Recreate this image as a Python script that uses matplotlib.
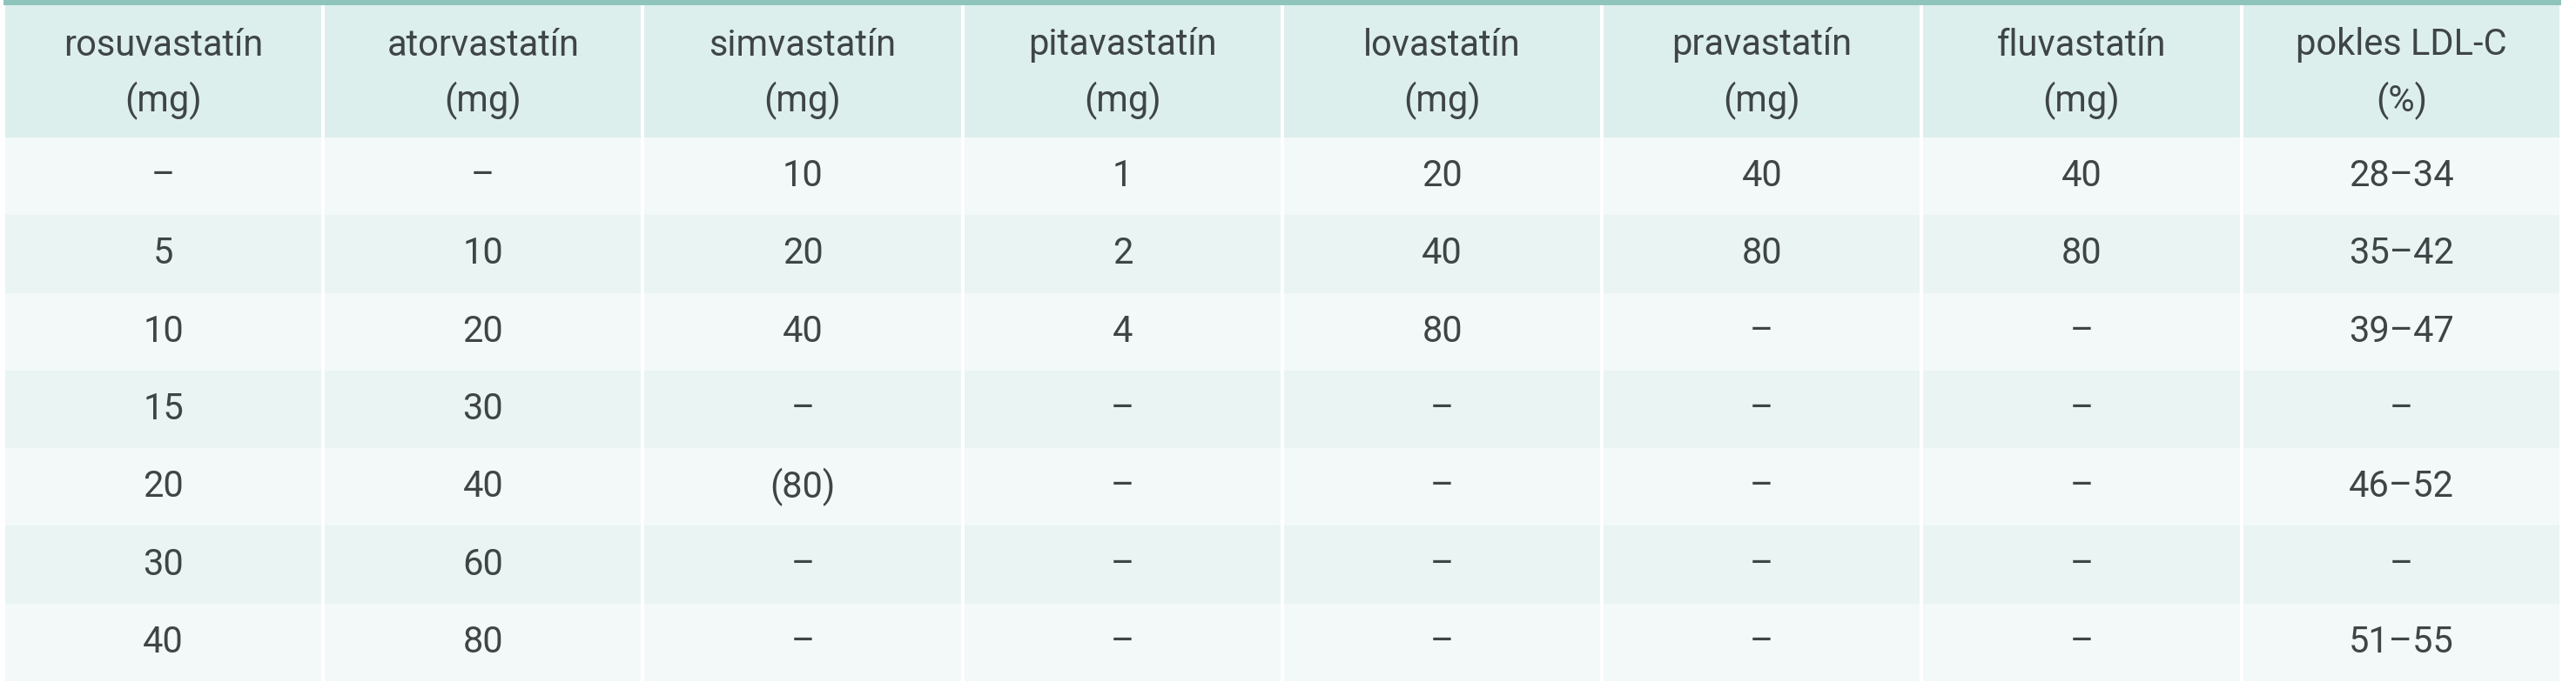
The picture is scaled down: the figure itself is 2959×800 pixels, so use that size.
import matplotlib
matplotlib.use("Agg")
import matplotlib.pyplot as plt
from matplotlib.patches import Rectangle

headers = ["rosuvastatín\n(mg)", "atorvastatín\n(mg)", "simvastatín\n(mg)", "pitavastatín\n(mg)",
           "lovastatín\n(mg)", "pravastatín\n(mg)", "fluvastatín\n(mg)", "pokles LDL-C\n(%)"]
rosuvastatin = ["–", "5", "10", "15", "20", "30", "40"]
atorvastatin = ["–", "10", "20", "30", "40", "60", "80"]
simvastatin = ["10", "20", "40", "–", "(80)", "–", "–"]
pitavastatin = ["1", "2", "4", "–", "–", "–", "–"]
lovastatin = ["20", "40", "80", "–", "–", "–", "–"]
pravastatin = ["40", "80", "–", "–", "–", "–", "–"]
fluvastatin = ["40", "80", "–", "–", "–", "–", "–"]
ldl_drop = ["28–34", "35–42", "39–47", "–", "46–52", "–", "51–55"]
columns = [rosuvastatin, atorvastatin, simvastatin, pitavastatin, lovastatin, pravastatin, fluvastatin, ldl_drop]

W, H = 2959, 800
fig = plt.figure(figsize=(W/100, H/100), dpi=100)
ax = fig.add_axes([0, 0, 1, 1])
ax.set_xlim(0, W); ax.set_ylim(H, 0); ax.axis("off")

left, right = 4, 2942
ncol = len(headers)
cw = (right - left) / ncol
top, border = 0, 6
head_h = 158
nrow = len(rosuvastatin)
row_h = (783 - head_h) / nrow
txt = "#3f4546"

ax.add_patch(Rectangle((left, top), right-left, border, color="#8fc4bc", lw=0))
for c in range(ncol):
    x0 = left + c*cw + 2
    w = cw - 4
    ax.add_patch(Rectangle((x0, border), w, head_h-border, color="#dcefec", lw=0))
    ax.text(x0 + w/2, 52, headers[c].split("\n")[0], ha="center", va="center", fontsize=30, color=txt, family="Roboto")
    ax.text(x0 + w/2, 116, headers[c].split("\n")[1], ha="center", va="center", fontsize=30, color=txt, family="Roboto")
    for r in range(nrow):
        y0 = head_h + r*row_h
        col = "#f3f8f8" if r % 2 == 0 else "#e9f4f3"
        ax.add_patch(Rectangle((x0, y0), w, row_h, color=col, lw=0))
        ax.text(x0 + w/2, y0 + row_h/2, columns[c][r], ha="center", va="center", fontsize=30, color=txt, family="Roboto")

fig.savefig("out.png", dpi=100, facecolor="white")
